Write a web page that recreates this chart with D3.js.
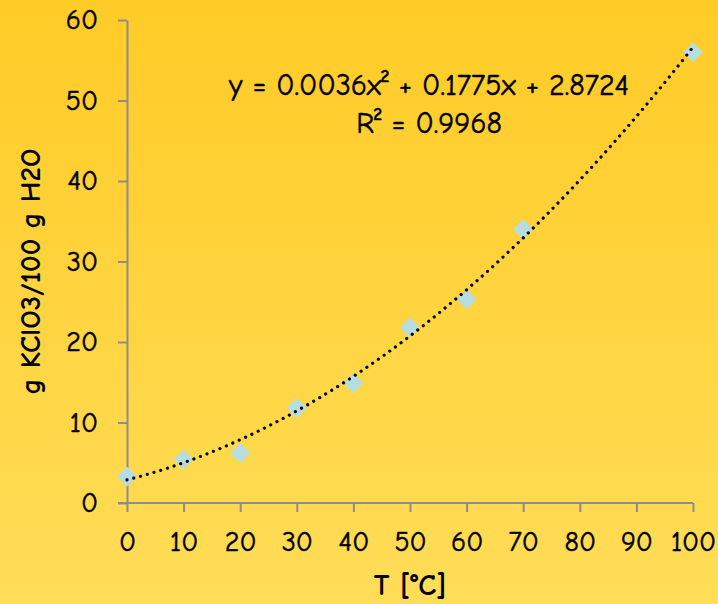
<!DOCTYPE html>
<html>
<head>
<meta charset="utf-8">
<script src="https://cdn.jsdelivr.net/npm/d3@7"></script>
<style>
  html, body { margin: 0; padding: 0; }
  svg { display: block; }
  text { font-family: "Comic Sans MS", "Comic Neue", "DejaVu Sans", sans-serif; fill: #000; }
  .thick { stroke: #000; stroke-width: 0.5px; }
</style>
</head>
<body>
<svg id="chart"></svg>
<script>
// chart data
const temps = [0, 10, 20, 30, 40, 50, 60, 70, 100];
const solubility = [3.3, 5.4, 6.2, 11.8, 14.9, 21.8, 25.3, 34.0, 56.0];
const xTicks = [0, 10, 20, 30, 40, 50, 60, 70, 80, 90, 100];
const yTicks = [0, 10, 20, 30, 40, 50, 60];
// trendline coefficients (a x^2 + b x + c) as printed on the chart
const trendCoef = [0.0036, 0.1775, 2.8724];
const trendLabel = ["y = 0.0036x\u00B2 + 0.1775x + 2.8724", "R\u00B2 = 0.9968"];

const width = 718;
const height = 604;
const margin = { top: 20, right: 25, bottom: 101, left: 127 };

const svg = d3.select('#chart')
    .attr('width', width).attr('height', height);

// background gradient
const grad = svg.append('defs').append('linearGradient')
    .attr('id', 'bg').attr('x1', 0).attr('y1', 0).attr('x2', 0).attr('y2', 1);
grad.append('stop').attr('offset', '0%').attr('stop-color', '#ffcb26');
grad.append('stop').attr('offset', '100%').attr('stop-color', '#ffdd58');
svg.append('rect').attr('width', width).attr('height', height).attr('fill', 'url(#bg)');

const x = d3.scaleLinear().domain([0, 100]).range([margin.left, width - margin.right]);
const y = d3.scaleLinear().domain([0, 60]).range([height - margin.bottom, margin.top]);

// axes
const xAxis = svg.append('g')
    .attr('transform', `translate(0,${y(0)})`)
    .call(d3.axisBottom(x).tickValues(xTicks).tickSize(9).tickSizeOuter(0).tickPadding(19));
const yAxis = svg.append('g')
    .attr('transform', `translate(${x(0)},0)`)
    .call(d3.axisLeft(y).tickValues(yTicks).tickSize(9).tickSizeOuter(0).tickPadding(20));

[xAxis, yAxis].forEach(g => {
    g.selectAll('path, line').attr('stroke', '#8c8c8c').attr('stroke-width', 2);
    g.selectAll('text').style('font-size', '28px').attr('fill', '#000').attr('class', 'thick');
});
// x axis line starts at left tick end like Excel
xAxis.select('.domain').attr('d', `M${x(0) - 9},0H${x(100)}`);

// markers
svg.append('g').selectAll('path')
    .data(temps.map((t, i) => [t, solubility[i]]))
    .join('path')
    .attr('d', d3.symbol().type(d3.symbolSquare).size(200))
    .attr('transform', d => `translate(${x(d[0])},${y(d[1])}) rotate(45)`)
    .attr('fill', '#b5dde2');

// dotted polynomial trendline
const curveX = d3.range(0, 100.5, 1);
const line = d3.line()
    .x(d => x(d))
    .y(d => y(trendCoef[0] * d * d + trendCoef[1] * d + trendCoef[2]));
svg.append('path')
    .datum(curveX)
    .attr('d', line)
    .attr('fill', 'none')
    .attr('stroke', '#000')
    .attr('stroke-width', 3.2)
    .attr('stroke-linecap', 'round')
    .attr('stroke-dasharray', '0.01 7');

// equation label
svg.append('text')
    .attr('class', 'thick')
    .attr('x', 429).attr('y', 95)
    .attr('text-anchor', 'middle')
    .style('font-size', '30px')
    .text(trendLabel[0]);
svg.append('text')
    .attr('class', 'thick')
    .attr('x', 429).attr('y', 133)
    .attr('text-anchor', 'middle')
    .style('font-size', '30px')
    .text(trendLabel[1]);

// axis titles
svg.append('text')
    .attr('x', (x(0) + x(100)) / 2).attr('y', 595)
    .attr('text-anchor', 'middle')
    .style('font-size', '30px').style('font-weight', 'bold')
    .text('T [°C]');
svg.append('text')
    .attr('transform', `translate(40,${(y(0) + y(60)) / 2 + 10}) rotate(-90)`)
    .attr('text-anchor', 'middle')
    .style('font-size', '29px').style('font-weight', 'bold')
    .text('g KClO3/100 g H2O');
</script>
</body>
</html>
